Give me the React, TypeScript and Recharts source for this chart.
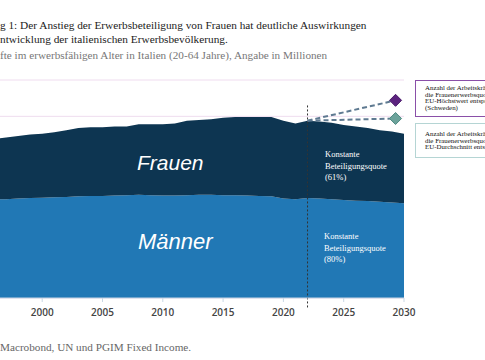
import React from "react";
import {
  ComposedChart,
  Area,
  Line,
  XAxis,
  YAxis,
  CartesianGrid,
  ReferenceLine,
} from "recharts";

const years = [
  1995, 1996, 1997, 1998, 1999, 2000, 2001, 2002, 2003, 2004, 2005, 2006,
  2007, 2008, 2009, 2010, 2011, 2012, 2013, 2014, 2015, 2016, 2017, 2018,
  2019, 2020, 2021, 2022, 2023, 2024, 2025, 2026, 2027, 2028, 2029, 2030,
];
const maenner = [
  13.5, 13.55, 13.6, 13.7, 13.75, 13.8, 13.85, 13.9, 14.0, 14.05, 14.05, 14.1,
  14.15, 14.2, 14.15, 14.1, 14.1, 14.15, 14.2, 14.2, 14.15, 14.15, 14.1, 14.05,
  14.0, 13.7, 13.6, 13.75, 13.7, 13.6, 13.5, 13.4, 13.35, 13.25, 13.15, 13.05,
];
const frauen = [
  8.3, 8.35, 8.5, 8.6, 8.75, 8.8, 8.95, 9.2, 9.4, 9.45, 9.45, 9.5,
  9.45, 9.7, 9.75, 9.8, 9.9, 10.25, 10.3, 10.4, 10.65, 10.75, 10.8, 10.85,
  10.9, 10.7, 10.4, 10.65, 10.6, 10.5, 10.3, 10.2, 10.05, 9.85, 9.75, 9.55,
];
const projYears = [2022, 2029.3];
const projHoechstwert = [24.4, 27.2];
const projDurchschnitt = [24.4, 24.7];
const xTicks = [2000, 2005, 2010, 2015, 2020, 2025, 2030];
const yTicks = [0, 5, 10, 15, 20, 25, 30];

const data = years.map((y, i) => ({ year: y, m: maenner[i], f: frauen[i] }));
const hoechstData = projYears.map((y, i) => ({ year: y, v: projHoechstwert[i] }));
const durchData = projYears.map((y, i) => ({ year: y, v: projDurchschnitt[i] }));

const makeDiamond = (fill: string, stroke: string) => (props: any) => {
  const { cx, cy, index } = props;
  if (index !== 1) return <g key={`d${index}`} />;
  const r = 6;
  return (
    <path
      key={`d${index}`}
      d={`M${cx},${cy - r} L${cx + r},${cy} L${cx},${cy + r} L${cx - r},${cy} Z`}
      fill={fill}
      stroke={stroke}
      strokeWidth={1}
    />
  );
};

const serif = "'Liberation Serif', 'Times New Roman', serif";
const sans = "'Liberation Sans', Arial, sans-serif";

const line = (top: number, prefix: string, rest: string, color: string, size: number) => (
  <div
    style={{
      position: "absolute",
      left: 0,
      top,
      whiteSpace: "nowrap",
      fontFamily: serif,
      fontSize: size,
      lineHeight: "14px",
      color,
    }}
  >
    <span style={{ position: "absolute", right: "100%" }}>{prefix}</span>
    {rest}
  </div>
);

const boxText: React.CSSProperties = {
  fontFamily: serif,
  fontSize: 6.9,
  lineHeight: "6.7px",
  color: "#111",
  whiteSpace: "nowrap",
};

export default function App() {
  return (
    <div
      style={{
        position: "absolute",
        left: 0,
        top: 0,
        width: 485,
        height: 360,
        overflow: "hidden",
        background: "#fff",
      }}
    >
      {line(18, "Abbildun", "g 1: Der Anstieg der Erwerbsbeteiligung von Frauen hat deutliche Auswirkungen", "#222", 11.3)}
      {line(32, "auf die E", "ntwicklung der italienischen Erwerbsbevölkerung.", "#222", 11.3)}
      {line(48, "Arbeitskr\u00e4", "fte im erwerbsfähigen Alter in Italien (20-64 Jahre), Angabe in Millionen", "#777", 11.2)}

      <div style={{ position: "absolute", left: 0, top: 0 }}>
        <ComposedChart
          width={430}
          height={330}
          data={data}
          margin={{ top: 80, right: 26, left: 0, bottom: 2 }}
        >
          <CartesianGrid vertical={false} stroke="#efdcef" />
          <XAxis
            dataKey="year"
            type="number"
            domain={[1996.5, 2030]}
            allowDataOverflow
            ticks={xTicks}
            height={30}
            tickSize={4}
            tickMargin={7}
            stroke="#c9d7e4"
            tick={{ fill: "#444", fontSize: 10, fontWeight: 600, fontFamily: "'Open Sans', sans-serif" }}
          />
          <YAxis hide domain={[0, 30]} ticks={yTicks} />
          <Area
            type="linear"
            dataKey="m"
            stackId="a"
            fill="#2178b5"
            fillOpacity={1}
            stroke="none"
            isAnimationActive={false}
          />
          <Area
            type="linear"
            dataKey="f"
            stackId="a"
            fill="#0d3551"
            fillOpacity={1}
            stroke="none"
            isAnimationActive={false}
          />
          <ReferenceLine
            segment={[
              { x: 2022, y: -1.3 },
              { x: 2022, y: 26.6 },
            ]}
            ifOverflow="visible"
            stroke="#333"
            strokeDasharray="2 2"
            strokeWidth={1}
          />
          <Line
            data={durchData}
            dataKey="v"
            type="linear"
            stroke="#5f7a91"
            strokeWidth={2}
            strokeDasharray="5 3"
            dot={makeDiamond("#6ca39b", "#4f8a82")}
            activeDot={false}
            isAnimationActive={false}
          />
          <Line
            data={hoechstData}
            dataKey="v"
            type="linear"
            stroke="#5f7a91"
            strokeWidth={2}
            strokeDasharray="5 3"
            dot={makeDiamond("#5c237f", "#4a1a6a")}
            activeDot={false}
            isAnimationActive={false}
          />
        </ComposedChart>
      </div>

      <div
        style={{
          position: "absolute",
          left: 137,
          top: 151,
          fontFamily: sans,
          fontStyle: "italic",
          fontSize: 21,
          lineHeight: "24px",
          color: "#fff",
        }}
      >
        Frauen
      </div>
      <div
        style={{
          position: "absolute",
          left: 138,
          top: 229,
          fontFamily: sans,
          fontStyle: "italic",
          fontSize: 22,
          lineHeight: "26px",
          color: "#fff",
        }}
      >
        Männer
      </div>

      <div
        style={{
          position: "absolute",
          left: 325,
          top: 149,
          fontFamily: serif,
          fontSize: 8.5,
          lineHeight: "11.5px",
          color: "#fff",
          whiteSpace: "nowrap",
        }}
      >
        Konstante
        <br />
        Beteiligungsquote
        <br />
        (61%)
      </div>
      <div
        style={{
          position: "absolute",
          left: 324,
          top: 231,
          fontFamily: serif,
          fontSize: 8.5,
          lineHeight: "11.5px",
          color: "#fff",
          whiteSpace: "nowrap",
        }}
      >
        Konstante
        <br />
        Beteiligungsquote
        <br />
        (80%)
      </div>

      <div
        style={{
          position: "absolute",
          left: 415,
          top: 80,
          width: 110,
          height: 37,
          border: "1.5px solid #8a4fa8",
          boxSizing: "border-box",
          padding: "4px 0 0 9px",
          ...boxText,
        }}
      >
        Anzahl der Arbeitskräfte, wenn
        <br />
        die Frauenerwerbsquote dem
        <br />
        EU-Höchstwert entspricht
        <br />
        (Schweden)
      </div>
      <div
        style={{
          position: "absolute",
          left: 415,
          top: 123,
          width: 110,
          height: 35,
          border: "1.5px solid #b5d5d4",
          boxSizing: "border-box",
          padding: "7px 0 0 9px",
          ...boxText,
        }}
      >
        Anzahl der Arbeitskräfte, wenn
        <br />
        die Frauenerwerbsquote dem
        <br />
        EU-Durchschnitt entspricht
      </div>

      {line(340, "Quelle: ", "Macrobond, UN und PGIM Fixed Income.", "#666", 11.2)}
    </div>
  );
}
